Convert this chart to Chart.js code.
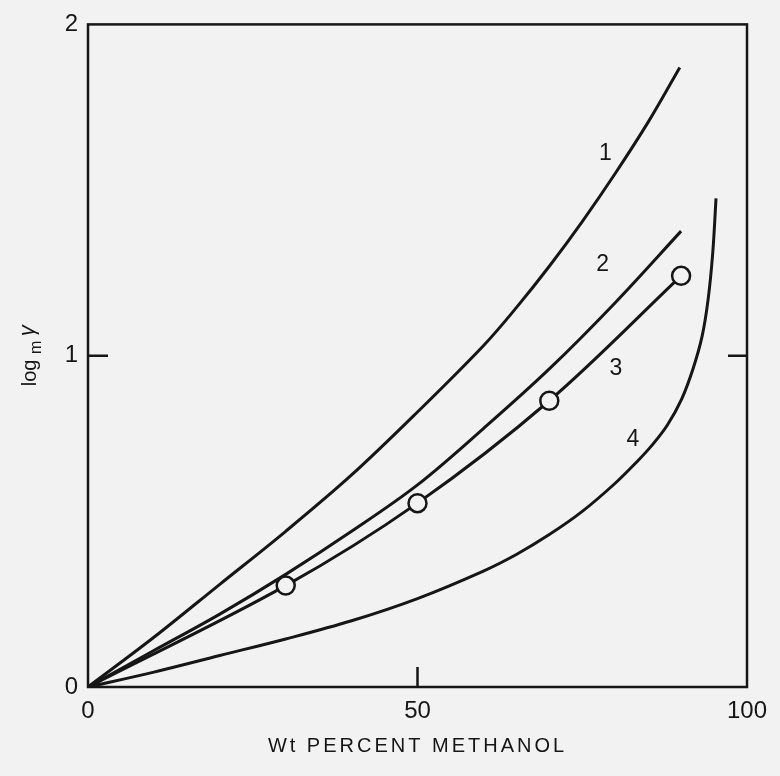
<!DOCTYPE html>
<html>
<head>
<meta charset="utf-8">
<script src="https://cdn.jsdelivr.net/npm/chart.js@4.4.1/dist/chart.umd.min.js"></script>
<style>
  html, body { margin: 0; padding: 0; background: #f2f2f2; }
  #wrap { width: 780px; height: 776px; }
</style>
</head>
<body>
<div id="wrap"><canvas id="grafiek"></canvas></div>
<script>
// curve 1
const x1 = [0, 10, 20, 30, 40, 50, 60, 65, 70, 75, 80, 85, 89.8];
const y1 = [0, 0.15, 0.31, 0.47, 0.64, 0.83, 1.03, 1.145, 1.27, 1.405, 1.55, 1.705, 1.87];
// curve 2
const x2 = [0, 10, 20, 30, 40, 50, 60, 70, 80, 90];
const y2 = [0, 0.11, 0.22, 0.34, 0.47, 0.61, 0.78, 0.96, 1.16, 1.376];
// curve 3 (measured points)
const x3 = [0, 30, 50, 70, 90];
const y3 = [0, 0.306, 0.555, 0.864, 1.241];
// curve 4
const x4 = [0, 10, 20, 30, 40, 50, 60, 65, 70, 75, 80, 83.3, 85.6, 87.9, 90.1, 91.8, 93.2, 94.1, 94.8, 95.3];
const y4 = [0, 0.045, 0.095, 0.145, 0.20, 0.267, 0.35, 0.40, 0.46, 0.53, 0.615, 0.68, 0.73, 0.79, 0.87, 0.96, 1.06, 1.17, 1.31, 1.475];

// curve numbers
const curveNames = ['1', '2', '3', '4'];
const nameX = [78.5, 78.1, 80.1, 82.7];
const nameY = [1.61, 1.274, 0.962, 0.747];

const xTicks = [0, 50, 100];
const yTicks = [0, 1, 2];
const xTitle = 'Wt PERCENT METHANOL';

const INKT = '#161616';
const FONT = '"Liberation Sans", Arial, sans-serif';

const punten = (xs, ys) => xs.map((x, i) => ({ x, y: ys[i] }));

const lijn = (data, extra) => Object.assign({
  data, borderColor: INKT, borderWidth: 3, pointRadius: 0,
  tension: 0.35, fill: false
}, extra || {});

const kaderPlugin = {
  id: 'kader',
  afterDatasetsDraw(chart) {
    const { ctx, chartArea: a, scales: { x, y } } = chart;
    ctx.save();
    ctx.strokeStyle = INKT;
    ctx.lineWidth = 2.5;
    ctx.strokeRect(a.left, a.top, a.right - a.left, a.bottom - a.top);
    // inward ticks
    ctx.beginPath();
    const y1p = y.getPixelForValue(1);
    ctx.moveTo(a.left, y1p); ctx.lineTo(a.left + 20, y1p);
    ctx.moveTo(a.right, y1p); ctx.lineTo(a.right - 19, y1p);
    const x50 = x.getPixelForValue(50);
    ctx.moveTo(x50, a.bottom); ctx.lineTo(x50, a.bottom - 20);
    ctx.stroke();

    // curve numbers
    ctx.fillStyle = INKT;
    ctx.font = '23px ' + FONT;
    ctx.textAlign = 'center';
    ctx.textBaseline = 'middle';
    curveNames.forEach((t, i) => {
      ctx.fillText(t, x.getPixelForValue(nameX[i]), y.getPixelForValue(nameY[i]));
    });

    // x title
    ctx.font = '20px ' + FONT;
    ctx.letterSpacing = '3px';
    ctx.fillText(xTitle, (a.left + a.right) / 2, 746);
    ctx.letterSpacing = '0px';

    // y title: log_m γ
    ctx.translate(28, (a.top + a.bottom) / 2);
    ctx.rotate(-Math.PI / 2);
    ctx.textAlign = 'left';
    ctx.textBaseline = 'alphabetic';
    ctx.font = '20px ' + FONT;
    const w1 = ctx.measureText('log ').width;
    ctx.font = '16px ' + FONT;
    const w2 = ctx.measureText('m ').width;
    ctx.font = 'italic 22px ' + FONT;
    const w3 = ctx.measureText('γ').width;
    let sx = -(w1 + w2 + w3) / 2;
    ctx.font = '20px ' + FONT;
    ctx.fillText('log', sx, 8);
    sx += w1;
    ctx.font = '16px ' + FONT;
    ctx.fillText('m', sx, 13);
    sx += w2;
    ctx.font = 'italic 22px ' + FONT;
    ctx.fillText('γ', sx, 6);
    ctx.restore();
  }
};

new Chart(document.getElementById('grafiek'), {
  type: 'line',
  data: {
    datasets: [
      lijn(punten(x1, y1)),
      lijn(punten(x2, y2)),
      lijn(punten(x3, y3), {
        pointRadius: [0, 9, 9, 9, 9],
        pointBackgroundColor: '#f2f2f2',
        pointBorderColor: INKT,
        pointBorderWidth: 2.5
      }),
      lijn(punten(x4, y4))
    ]
  },
  options: {
    responsive: true,
    maintainAspectRatio: false,
    animation: false,
    layout: { padding: { top: 20, right: 33, left: 0, bottom: 0 } },
    plugins: { legend: { display: false }, tooltip: { enabled: false } },
    scales: {
      x: {
        type: 'linear', min: 0, max: 100,
        afterBuildTicks: s => { s.ticks = xTicks.map(v => ({ value: v })); },
        afterFit: s => { s.height = 89; },
        grid: { display: false, drawTicks: false },
        border: { display: false },
        ticks: { color: INKT, font: { family: FONT, size: 24 }, padding: 10, maxRotation: 0 }
      },
      y: {
        type: 'linear', min: 0, max: 2,
        afterBuildTicks: s => { s.ticks = yTicks.map(v => ({ value: v })); },
        afterFit: s => { s.width = 88; },
        grid: { display: false, drawTicks: false },
        border: { display: false },
        ticks: { color: INKT, font: { family: FONT, size: 24 }, padding: 10 }
      }
    }
  },
  plugins: [kaderPlugin]
});
</script>
</body>
</html>
